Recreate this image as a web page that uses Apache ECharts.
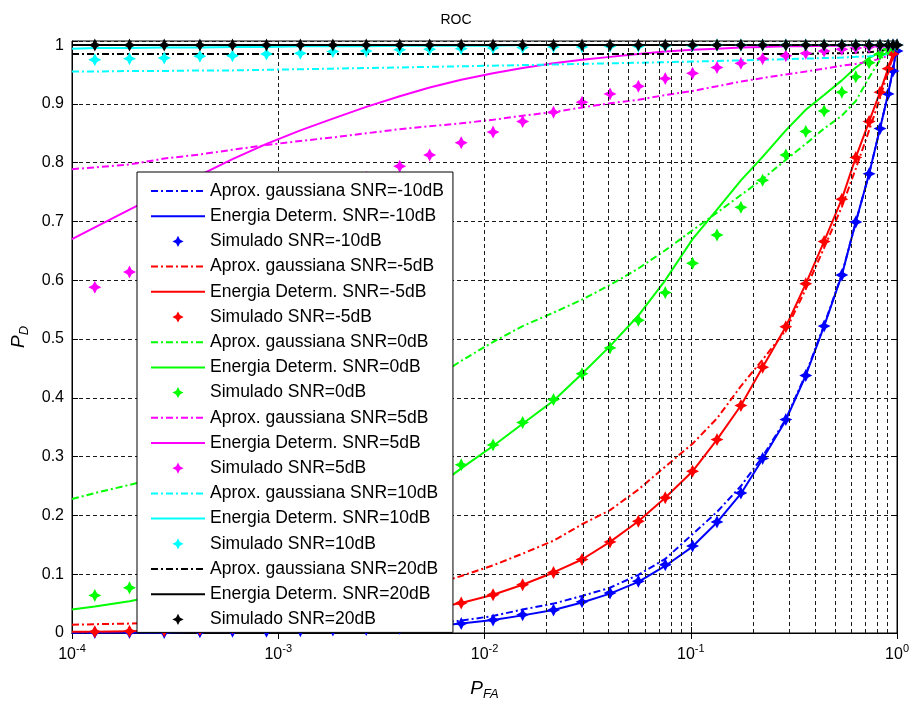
<!DOCTYPE html>
<html><head><meta charset="utf-8">
<script src="https://cdn.jsdelivr.net/npm/echarts/dist/echarts.min.js"></script>
<style>html,body{margin:0;padding:0;background:#fff}#c{width:912px;height:706px}</style>
</head><body><div id="c"></div><script>
// Probability of false alarm (x) for theory curves and simulated points
const pfaLine = [1e-4, 1.29e-4, 1.9e-4, 2.8e-4, 4.17e-4, 6.0e-4, 8.77e-4, 1.28e-3, 1.84e-3, 2.67e-3, 3.88e-3, 5.42e-3, 7.71e-3, 1.10e-2, 1.53e-2, 2.16e-2, 2.97e-2, 4.06e-2, 5.57e-2, 7.52e-2, 0.102, 0.134, 0.175, 0.223, 0.289, 0.361, 0.443, 0.540, 0.631, 0.732, 0.827, 0.905, 0.956, 1.0];
const pfaSim = [1.29e-4, 1.9e-4, 2.8e-4, 4.17e-4, 6.0e-4, 8.77e-4, 1.28e-3, 1.84e-3, 2.67e-3, 3.88e-3, 5.42e-3, 7.71e-3, 1.10e-2, 1.53e-2, 2.16e-2, 2.97e-2, 4.06e-2, 5.57e-2, 7.52e-2, 0.102, 0.134, 0.175, 0.223, 0.289, 0.361, 0.443, 0.540, 0.631, 0.732, 0.827, 0.905, 0.956, 1.0];

// SNR = -10 dB
const gaussM10 = [0.001, 0.001, 0.002, 0.002, 0.003, 0.004, 0.005, 0.006, 0.008, 0.010, 0.013, 0.016, 0.021, 0.029, 0.040, 0.050, 0.063, 0.077, 0.099, 0.126, 0.168, 0.206, 0.250, 0.300, 0.364, 0.440, 0.524, 0.610, 0.699, 0.781, 0.858, 0.917, 0.958, 1.0];
const energM10 = [0.001, 0.001, 0.001, 0.001, 0.002, 0.003, 0.003, 0.004, 0.005, 0.006, 0.008, 0.011, 0.016, 0.022, 0.030, 0.039, 0.052, 0.067, 0.087, 0.114, 0.147, 0.188, 0.237, 0.296, 0.362, 0.438, 0.522, 0.609, 0.699, 0.781, 0.858, 0.917, 0.958, 1.0];
const simM10 = [0.001, 0.001, 0.001, 0.002, 0.003, 0.003, 0.004, 0.005, 0.006, 0.008, 0.011, 0.016, 0.022, 0.031, 0.039, 0.053, 0.068, 0.088, 0.116, 0.148, 0.189, 0.238, 0.297, 0.363, 0.438, 0.522, 0.609, 0.699, 0.781, 0.858, 0.917, 0.956, 0.990];
// SNR = -5 dB
const gaussM5 = [0.014, 0.015, 0.016, 0.018, 0.021, 0.025, 0.030, 0.037, 0.045, 0.055, 0.066, 0.080, 0.097, 0.115, 0.135, 0.157, 0.185, 0.209, 0.244, 0.283, 0.322, 0.365, 0.420, 0.465, 0.515, 0.585, 0.655, 0.725, 0.790, 0.855, 0.910, 0.955, 0.980, 1.0];
const energM5 = [0.002, 0.002, 0.003, 0.004, 0.006, 0.009, 0.012, 0.016, 0.021, 0.027, 0.033, 0.041, 0.051, 0.065, 0.082, 0.103, 0.125, 0.155, 0.190, 0.230, 0.275, 0.329, 0.387, 0.452, 0.521, 0.594, 0.666, 0.738, 0.809, 0.870, 0.920, 0.960, 0.985, 1.0];
const simM5 = [0.002, 0.003, 0.004, 0.006, 0.009, 0.012, 0.016, 0.021, 0.027, 0.033, 0.041, 0.051, 0.065, 0.082, 0.103, 0.125, 0.155, 0.190, 0.230, 0.275, 0.329, 0.387, 0.452, 0.521, 0.594, 0.666, 0.738, 0.809, 0.870, 0.920, 0.960, 0.985, 1.0];
// SNR = 0 dB
const gaussP0 = [0.228, 0.238, 0.252, 0.267, 0.283, 0.299, 0.317, 0.336, 0.356, 0.378, 0.401, 0.428, 0.463, 0.495, 0.522, 0.545, 0.567, 0.592, 0.620, 0.651, 0.685, 0.715, 0.745, 0.772, 0.805, 0.832, 0.858, 0.880, 0.905, 0.945, 0.975, 0.990, 0.996, 1.0];
const energP0 = [0.040, 0.045, 0.054, 0.066, 0.079, 0.093, 0.109, 0.128, 0.150, 0.175, 0.205, 0.240, 0.280, 0.318, 0.356, 0.395, 0.441, 0.488, 0.540, 0.600, 0.670, 0.720, 0.770, 0.810, 0.855, 0.890, 0.915, 0.940, 0.962, 0.978, 0.988, 0.994, 0.997, 1.0];
const simP0 = [0.064, 0.077, 0.090, 0.105, 0.121, 0.139, 0.158, 0.179, 0.202, 0.228, 0.256, 0.286, 0.320, 0.358, 0.397, 0.441, 0.485, 0.532, 0.579, 0.629, 0.677, 0.724, 0.770, 0.813, 0.853, 0.888, 0.920, 0.946, 0.970, 0.985, 0.993, 0.997, 1.0];
// SNR = 5 dB
const gaussP5 = [0.789, 0.792, 0.797, 0.807, 0.814, 0.822, 0.830, 0.837, 0.843, 0.850, 0.857, 0.862, 0.867, 0.873, 0.880, 0.886, 0.894, 0.901, 0.907, 0.915, 0.922, 0.930, 0.938, 0.944, 0.950, 0.955, 0.960, 0.965, 0.968, 0.972, 0.977, 0.982, 0.990, 1.0];
const energP5 = [0.670, 0.690, 0.720, 0.750, 0.779, 0.806, 0.832, 0.855, 0.875, 0.895, 0.913, 0.928, 0.941, 0.952, 0.961, 0.969, 0.975, 0.980, 0.985, 0.989, 0.992, 0.994, 0.996, 0.997, 0.998, 0.998, 0.999, 0.999, 1.0, 1.0, 1.0, 1.0, 1.0, 1.0];
const simP5 = [0.588, 0.614, 0.640, 0.665, 0.690, 0.712, 0.735, 0.755, 0.775, 0.794, 0.813, 0.834, 0.852, 0.870, 0.886, 0.903, 0.917, 0.930, 0.943, 0.952, 0.962, 0.969, 0.977, 0.982, 0.986, 0.990, 0.993, 0.995, 0.997, 0.998, 0.999, 1.0, 1.0];
// SNR = 10 dB
const gaussP10 = [0.955, 0.955, 0.956, 0.956, 0.957, 0.957, 0.958, 0.959, 0.960, 0.961, 0.962, 0.963, 0.964, 0.965, 0.966, 0.967, 0.968, 0.969, 0.970, 0.971, 0.972, 0.973, 0.974, 0.975, 0.976, 0.977, 0.978, 0.979, 0.980, 0.981, 0.982, 0.985, 0.990, 1.0];
const energP10 = [0.994, 0.995, 0.995, 0.996, 0.996, 0.997, 0.997, 0.998, 0.998, 0.998, 0.999, 0.999, 0.999, 0.999, 1.0, 1.0, 1.0, 1.0, 1.0, 1.0, 1.0, 1.0, 1.0, 1.0, 1.0, 1.0, 1.0, 1.0, 1.0, 1.0, 1.0, 1.0, 1.0, 1.0];
const simP10 = [0.975, 0.977, 0.978, 0.981, 0.982, 0.985, 0.986, 0.989, 0.990, 0.992, 0.993, 0.994, 0.995, 0.996, 0.997, 0.997, 0.998, 0.998, 0.999, 0.999, 1.0, 1.0, 1.0, 1.0, 1.0, 1.0, 1.0, 1.0, 1.0, 1.0, 1.0, 1.0, 1.0];
// SNR = 20 dB
const gaussP20 = [0.985, 0.985, 0.985, 0.985, 0.985, 0.985, 0.985, 0.985, 0.985, 0.985, 0.985, 0.985, 0.985, 0.985, 0.985, 0.985, 0.985, 0.985, 0.985, 0.985, 0.985, 0.985, 0.985, 0.985, 0.985, 0.985, 0.986, 0.986, 0.987, 0.988, 0.990, 0.993, 0.996, 1.0];
const energP20 = [1.0, 1.0, 1.0, 1.0, 1.0, 1.0, 1.0, 1.0, 1.0, 1.0, 1.0, 1.0, 1.0, 1.0, 1.0, 1.0, 1.0, 1.0, 1.0, 1.0, 1.0, 1.0, 1.0, 1.0, 1.0, 1.0, 1.0, 1.0, 1.0, 1.0, 1.0, 1.0, 1.0, 1.0];
const simP20 = [1.0, 1.0, 1.0, 1.0, 1.0, 1.0, 1.0, 1.0, 1.0, 1.0, 1.0, 1.0, 1.0, 1.0, 1.0, 1.0, 1.0, 1.0, 1.0, 1.0, 1.0, 1.0, 1.0, 1.0, 1.0, 1.0, 1.0, 1.0, 1.0, 1.0, 1.0, 1.0, 1.0];

const snrNames = ['-10', '-5', '0', '5', '10', '20'];
const snrColors = ['#0000ff', '#ff0000', '#00ff00', '#ff00ff', '#00ffff', '#000000'];
const gaussSets = [gaussM10, gaussM5, gaussP0, gaussP5, gaussP10, gaussP20];
const energSets = [energM10, energM5, energP0, energP5, energP10, energP20];
const simSets = [simM10, simM5, simP0, simP5, simP10, simP20];
const minorTicks = [2e-4,3e-4,4e-4,5e-4,6e-4,7e-4,8e-4,9e-4,2e-3,3e-3,4e-3,5e-3,6e-3,7e-3,8e-3,9e-3,2e-2,3e-2,4e-2,5e-2,6e-2,7e-2,8e-2,9e-2,0.2,0.3,0.4,0.5,0.6,0.7,0.8,0.9];

const FONT = '"Liberation Sans", Arial, sans-serif';
const starPath = 'path://M0,-10 L3.4,-3.4 L10,0 L3.4,3.4 L0,10 L-3.4,3.4 L-10,0 L-3.4,-3.4 Z';
const pair = (xs, ys) => xs.map((x, i) => [x, ys[i]]);

const series = [{
  type: 'line', name: '_grid', data: [], z: 1, silent: true,
  markLine: {
    silent: true, symbol: ['none', 'none'], label: { show: false },
    lineStyle: { color: '#1a1a1a', type: [4, 3], width: 1 },
    emphasis: { disabled: true },
    data: minorTicks.map(v => ({ xAxis: v }))
  }
}];
const legendData = [];
snrNames.forEach((s, k) => {
  const c = snrColors[k];
  const n1 = 'Aprox. gaussiana SNR=' + s + 'dB';
  const n2 = 'Energia Determ. SNR=' + s + 'dB';
  const n3 = 'Simulado SNR=' + s + 'dB';
  legendData.push({ name: n1, itemStyle: { opacity: 0 } }, { name: n2, itemStyle: { opacity: 0 } }, { name: n3 });
  series.push({
    type: 'line', name: n1, data: pair(pfaLine, gaussSets[k]), symbol: 'none',
    lineStyle: { color: c, width: 2, type: [7, 3, 2, 3] }, itemStyle: { color: c }
  });
  series.push({
    type: 'line', name: n2, data: pair(pfaLine, energSets[k]), symbol: 'none',
    lineStyle: { color: c, width: 2, type: 'solid' }, itemStyle: { color: c }
  });
  series.push({
    type: 'line', name: n3, data: pair(pfaSim, simSets[k]), symbol: starPath, symbolSize: 13,
    showSymbol: true, lineStyle: { color: c, width: 0, opacity: 0 }, itemStyle: { color: c }
  });
});

const chart = echarts.init(document.getElementById('c'), null, { renderer: 'canvas' });
chart.setOption({
  animation: false,
  backgroundColor: '#fff',
  title: { text: 'ROC', left: 'center', top: 8, textStyle: { fontFamily: FONT, fontSize: 14, fontWeight: 'normal', color: '#000' } },
  grid: { left: 72, right: 14, top: 41, bottom: 58, show: true, borderColor: '#000', borderWidth: 1, backgroundColor: 'transparent' },
  legend: {
    data: legendData, orient: 'vertical', left: 137, top: 172,
    backgroundColor: '#fff', borderColor: '#000', borderWidth: 1, borderRadius: 0,
    padding: [10, 9, 4, 13], itemWidth: 54, itemHeight: 14, itemGap: 7.2,
    selectedMode: false,
    textStyle: { fontFamily: FONT, fontSize: 17.5, color: '#000', lineHeight: 18 }
  },
  xAxis: [{
    type: 'log', logBase: 10, min: 1e-4, max: 1, position: 'bottom',
    name: '{p|P}{s|FA}', nameLocation: 'middle', nameGap: 43,
    nameTextStyle: { rich: { p: { fontFamily: FONT, fontSize: 19, fontStyle: 'italic', color: '#000' }, s: { fontFamily: FONT, fontSize: 13, fontStyle: 'italic', color: '#000', padding: [12, 0, 0, 0] } } },
    axisLine: { show: true, lineStyle: { color: '#000', width: 1 } },
    axisTick: { show: true, inside: true, length: 6, lineStyle: { color: '#000' } },
    axisLabel: {
      margin: 10,
      formatter: v => '{b|10}{s|' + Math.round(Math.log10(v)) + '}',
      rich: { b: { fontFamily: FONT, fontSize: 16, color: '#000' }, s: { fontFamily: FONT, fontSize: 11, color: '#000', padding: [0, 0, 12, 0] } }
    },
    splitLine: { show: true, lineStyle: { color: '#1a1a1a', type: [4, 3], width: 1 } }
  }, {
    type: 'log', logBase: 10, min: 1e-4, max: 1, position: 'top',
    axisLine: { show: true, lineStyle: { color: '#000' } },
    axisTick: { show: true, inside: true, length: 6, lineStyle: { color: '#000' } },
    axisLabel: { show: false }, splitLine: { show: false }
  }],
  yAxis: [{
    type: 'value', min: 0, max: 1.007, interval: 0.1, position: 'left',
    name: '{p|P}{s|D}', nameLocation: 'middle', nameGap: 37, nameRotate: 90,
    nameTextStyle: { rich: { p: { fontFamily: FONT, fontSize: 19, fontStyle: 'italic', color: '#000' }, s: { fontFamily: FONT, fontSize: 13, fontStyle: 'italic', color: '#000', padding: [12, 0, 0, 0] } } },
    axisLine: { show: true, lineStyle: { color: '#000', width: 1 } },
    axisTick: { show: true, inside: true, length: 6, lineStyle: { color: '#000' } },
    axisLabel: {
      margin: 8, fontFamily: FONT, fontSize: 16, color: '#000',
      formatter: v => (Math.abs(v * 10 - Math.round(v * 10)) < 1e-6 ? String(+v.toFixed(1)) : '')
    },
    splitLine: { show: true, lineStyle: { color: '#1a1a1a', type: [4, 3], width: 1 } }
  }, {
    type: 'value', min: 0, max: 1.007, interval: 0.1, position: 'right',
    axisLine: { show: true, lineStyle: { color: '#000' } },
    axisTick: { show: true, inside: true, length: 6, lineStyle: { color: '#000' } },
    axisLabel: { show: false }, splitLine: { show: false }
  }],
  series: series
});
</script></body></html>
